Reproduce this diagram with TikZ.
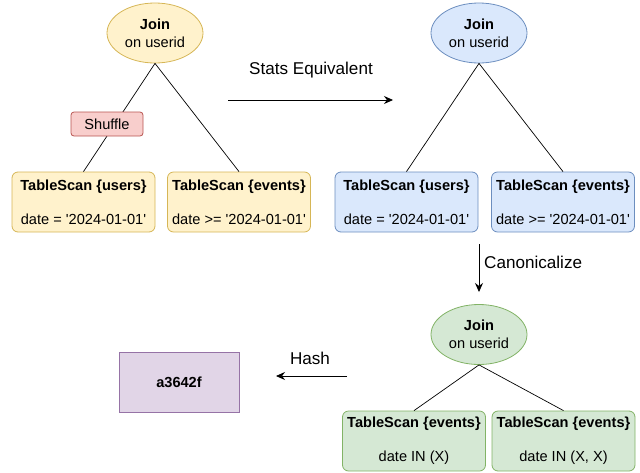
\documentclass[tikz,border=0pt]{standalone}
\usepackage{fontspec}
\newfontfamily\lib{Liberation Sans}
\usetikzlibrary{arrows.meta,shapes.geometric}
\definecolor{yfill}{HTML}{FFF2CC}\definecolor{ydraw}{HTML}{D6B656}
\definecolor{bfill}{HTML}{DAE8FC}\definecolor{bdraw}{HTML}{6C8EBF}
\definecolor{gfill}{HTML}{D5E8D4}\definecolor{gdraw}{HTML}{82B366}
\definecolor{rfill}{HTML}{F8CECC}\definecolor{rdraw}{HTML}{B85450}
\definecolor{pfill}{HTML}{E1D5E7}\definecolor{pdraw}{HTML}{9673A6}
\tikzset{
  joinnode/.style={ellipse, minimum width=96pt, minimum height=60pt, inner sep=0pt, align=center, line width=0.8pt, font=\lib\fontsize{14.6}{17.6}\selectfont},
  scanbox/.style={rectangle, rounded corners=6pt, minimum width=143pt, minimum height=60pt, inner sep=0pt, align=center, line width=0.8pt, font=\lib\fontsize{14.6}{17.2}\selectfont},
  yel/.style={fill=yfill, draw=ydraw},
  blu/.style={fill=bfill, draw=bdraw},
  grn/.style={fill=gfill, draw=gdraw},
  edge/.style={line width=0.7pt, draw=black},
  flow/.style={line width=0.8pt, draw=black, -{Stealth[length=9pt,width=8pt,inset=3pt]}},
  lbl/.style={font=\lib\fontsize{17.1}{20}\selectfont, inner sep=0pt},
}
\begin{document}
\begin{tikzpicture}[x=1pt,y=-1pt]
\useasboundingbox (0,0) rectangle (640,472);
% yellow tree
\node[joinnode, yel] (yj) at (155,33) {\textbf{Join}\\on userid};
\node[scanbox, yel] (yu) at (83.5,202) {\textbf{TableScan \{users\}}\\[17.2pt]date = '2024-01-01'};
\node[scanbox, yel] (ye) at (239,202) {\textbf{TableScan \{events\}}\\[17.2pt]date >= '2024-01-01'};
\draw[edge] (yj.south) -- (yu.north);
\draw[edge] (yj.south) -- (ye.north);
\node[rectangle, rounded corners=3pt, fill=rfill, draw=rdraw, line width=0.8pt, minimum width=72pt, minimum height=24pt, inner sep=0pt, font=\lib\fontsize{14.6}{17.2}\selectfont] (sh) at (107,124) {Shuffle};
% stats arrow
\coordinate (s1) at (228,100);
\coordinate (s2) at (393,100);
\draw[flow] (s1) -- (s2);
\node[lbl] (st) at (311,70) {Stats Equivalent};
% blue tree
\node[joinnode, blu] (bj) at (479,33) {\textbf{Join}\\on userid};
\node[scanbox, blu] (bu) at (406.5,202) {\textbf{TableScan \{users\}}\\[17.2pt]date = '2024-01-01'};
\node[scanbox, blu] (be) at (563,202) {\textbf{TableScan \{events\}}\\[17.2pt]date >= '2024-01-01'};
\draw[edge] (bj.south) -- (bu.north);
\draw[edge] (bj.south) -- (be.north);
% canonicalize arrow
\coordinate (c1) at (479,244);
\coordinate (c2) at (479,292);
\draw[flow] (c1) -- (c2);
\node[lbl, anchor=west] (cn) at (484,262) {Canonicalize};
% green tree
\node[joinnode, grn] (gj) at (479,334.5) {\textbf{Join}\\on userid};
\node[scanbox, grn] (gl) at (414,441) {\textbf{TableScan \{events\}}\\[17.2pt]date IN (X)};
\node[scanbox, grn] (gr) at (563.5,441) {\textbf{TableScan \{events\}}\\[17.2pt]date IN (X, X)};
\draw[edge] (gj.south) -- (gl.north);
\draw[edge] (gj.south) -- (gr.north);
% hash
\node[rectangle, fill=pfill, draw=pdraw, line width=0.8pt, minimum width=120pt, minimum height=60pt, inner sep=0pt, font=\lib\bfseries\fontsize{14.6}{17.2}\selectfont] (hs) at (179,382) {a3642f};
\coordinate (h1) at (347,376);
\coordinate (h2) at (276,376);
\draw[flow] (h1) -- (h2);
\node[lbl] (hl) at (310,358) {Hash};
\end{tikzpicture}
\end{document}
